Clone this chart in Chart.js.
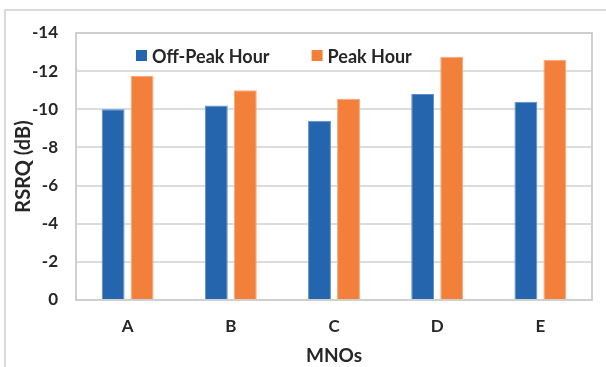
<!DOCTYPE html>
<html>
<head>
<meta charset="utf-8">
<script src="https://cdn.jsdelivr.net/npm/chart.js@4.4.1/dist/chart.umd.min.js"></script>
<style>
  html, body { margin: 0; padding: 0; background: #fff; }
  #wrap { position: relative; width: 606px; height: 367px; }
  #frame { position: absolute; left: 4px; top: 9px; right: -10px; bottom: -10px;
           border-left: 2px solid #dadada; border-top: 2px solid #dadada; }
</style>
</head>
<body>
<div id="wrap">
  <div id="frame"></div>
  <canvas id="chart"></canvas>
</div>
<script>
// MNO categories and RSRQ values (dB)
const categories = ['A', 'B', 'C', 'D', 'E'];
const offPeak = [-10.0, -10.2, -9.4, -10.8, -10.4];
const peak = [-11.75, -11.0, -10.55, -12.75, -12.6];
const seriesLabels = ['Off-Peak Hour', 'Peak Hour'];

const FONT = 'Lato, "Open Sans", sans-serif';

// legend drawn inside the plot area, like the original
const innerLegend = {
  id: 'innerLegend',
  afterDraw(chart) {
    const ctx = chart.ctx;
    const y = 56;
    let x = 136;
    ctx.save();
    ctx.font = 'bold 18px ' + FONT;
    ctx.textBaseline = 'middle';
    chart.data.datasets.forEach((ds) => {
      ctx.fillStyle = ds.backgroundColor;
      ctx.fillRect(x, y - 6, 11, 11);
      ctx.fillStyle = '#262626';
      ctx.fillText(ds.label, x + 16, y + 1);
      x += 16 + ctx.measureText(ds.label).width + 42;
    });
    ctx.restore();
  }
};

// border round the plot area
const plotBorder = {
  id: 'plotBorder',
  beforeDatasetsDraw(chart) {
    const a = chart.chartArea;
    const ctx = chart.ctx;
    ctx.save();
    ctx.strokeStyle = '#cfcfcf';
    ctx.lineWidth = 2;
    ctx.strokeRect(a.left, a.top, a.right - a.left, a.bottom - a.top);
    ctx.restore();
  }
};

new Chart(document.getElementById('chart'), {
  type: 'bar',
  data: {
    labels: categories,
    datasets: [
      { label: seriesLabels[0], data: offPeak, backgroundColor: '#2565ae',
        borderColor: '#5a8fd0', borderWidth: 1 },
      { label: seriesLabels[1], data: peak, backgroundColor: '#f2803a',
        borderColor: '#f7a777', borderWidth: 1 }
    ]
  },
  options: {
    responsive: true,
    maintainAspectRatio: false,
    animation: false,
    layout: { padding: { left: 0, right: 14, top: 33, bottom: 0 } },
    plugins: { legend: { display: false }, tooltip: { enabled: false } },
    datasets: { bar: { categoryPercentage: 0.562, barPercentage: 0.79 } },
    scales: {
      x: {
        grid: { display: false, drawTicks: false },
        border: { display: false },
        ticks: { color: '#262626', padding: 16, font: { family: FONT, size: 17, weight: 'bold' } },
        title: { display: true, text: 'MNOs', color: '#262626', padding: { top: 0, bottom: 0 },
                 font: { family: FONT, size: 19, weight: 'bold' } },
        afterFit(scale) { scale.height = 67; }
      },
      y: {
        reverse: true,
        min: -14,
        max: 0,
        ticks: { stepSize: 2, color: '#262626', padding: 18,
                 font: { family: FONT, size: 17, weight: 'bold' } },
        grid: { color: '#dcdcdc', lineWidth: 2, drawTicks: false },
        border: { display: false },
        title: { display: true, text: 'RSRQ (dB)', color: '#262626', padding: { top: 12, bottom: 0 },
                 font: { family: FONT, size: 20, weight: 'bold' } },
        afterFit(scale) { scale.width = 76; }
      }
    }
  },
  plugins: [plotBorder, innerLegend]
});
</script>
</body>
</html>
